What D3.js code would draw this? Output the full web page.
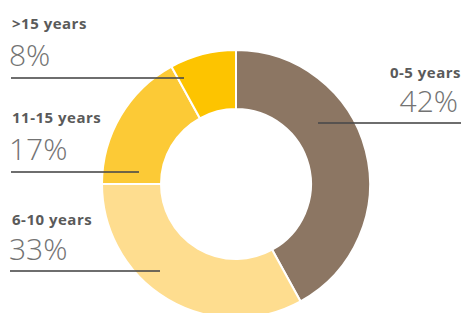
<!DOCTYPE html>
<html>
<head>
<meta charset="utf-8">
<script src="https://cdn.jsdelivr.net/npm/d3@7"></script>
<style>
  body { margin: 0; background: #fff; }
  svg { display: block; }
</style>
</head>
<body>
<svg id="chart" width="462" height="313"></svg>
<script>
// data
const categories = ["0-5 years", "6-10 years", "11-15 years", ">15 years"];
const shares = [42, 33, 17, 8];
const colours = ["#8c7663", "#fedd8f", "#fcca36", "#fdc400"];

const CX = 236, CY = 184;
const R_OUT = 134, R_IN = 75;

const svg = d3.select("#chart");

const pie = d3.pie().sort(null).value(d => d.value);
const arc = d3.arc().innerRadius(R_IN).outerRadius(R_OUT);

const rows = categories.map((c, i) => ({ name: c, value: shares[i], colour: colours[i] }));

const donut = svg.append("g").attr("transform", `translate(${CX},${CY})`);
donut.selectAll("path")
  .data(pie(rows))
  .join("path")
  .attr("d", arc)
  .attr("fill", d => d.data.colour)
  .attr("stroke", "#fff")
  .attr("stroke-width", 2);

// label placement: side, text x, baseline of name, baseline of value, leader y, leader x extent
const labels = [
  { anchor: "end", x: 461, nameY: 78, valY: 112, lineY: 123, x1: 318, x2: 461 },
  { anchor: "start", x: 12, nameY: 225, valY: 260, lineY: 271, x1: 10, x2: 160 },
  { anchor: "start", x: 12, nameY: 123, valY: 160, lineY: 172, x1: 11, x2: 139 },
  { anchor: "start", x: 12, nameY: 29, valY: 66, lineY: 78, x1: 11, x2: 184 }
];

const lab = svg.append("g").selectAll("g")
  .data(rows.map((r, i) => ({ ...r, ...labels[i] })))
  .join("g");

lab.append("line")
  .attr("x1", d => d.x1).attr("x2", d => d.x2)
  .attr("y1", d => d.lineY).attr("y2", d => d.lineY)
  .attr("stroke", "#4a4a4a")
  .attr("stroke-opacity", 0.8)
  .attr("stroke-width", 2);

lab.append("text")
  .attr("x", d => d.x).attr("y", d => d.nameY)
  .attr("text-anchor", d => d.anchor)
  .attr("font-family", "'Open Sans', 'Noto Sans', sans-serif")
  .attr("font-weight", 700)
  .attr("font-size", 15)
  .attr("letter-spacing", 0.5)
  .attr("fill", "#5a5a5a")
  .text(d => d.name);

lab.append("text")
  .attr("x", d => d.x - 3).attr("y", d => d.valY)
  .attr("text-anchor", d => d.anchor)
  .attr("font-family", "'Open Sans', 'Noto Sans', sans-serif")
  .attr("font-weight", 300)
  .attr("font-size", 30)
  .attr("fill", "#737373")
  .text(d => d.value + "%");
</script>
</body>
</html>
